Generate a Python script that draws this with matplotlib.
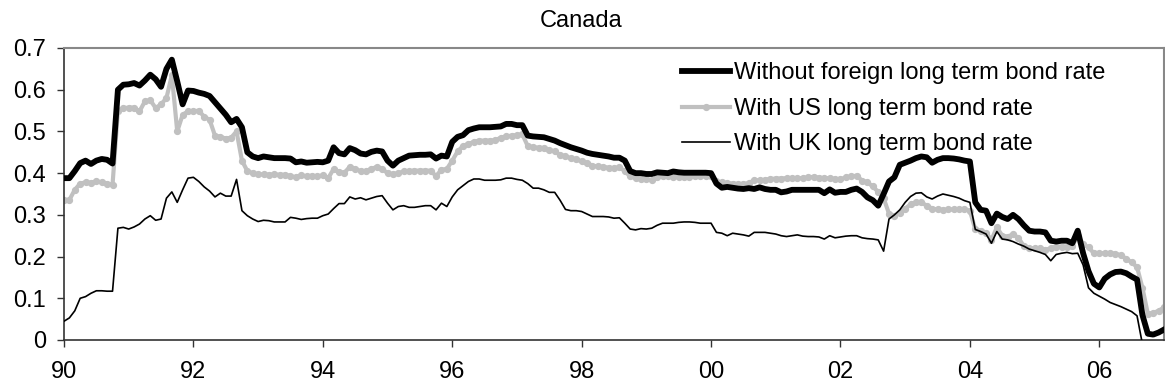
import numpy as np
import matplotlib
matplotlib.use("Agg")
import matplotlib.pyplot as plt

plt.rcParams['font.family'] = ['Liberation Sans', 'DejaVu Sans']

# monthly observations, Jan 1990 .. Jan 2007
start_year = 1990

without_foreign = [
    0.388, 0.388, 0.405, 0.424, 0.430, 0.422, 0.430, 0.434, 0.432, 0.423, 0.600, 0.612,
    0.613, 0.616, 0.610, 0.622, 0.636, 0.625, 0.607, 0.650, 0.672, 0.620, 0.565, 0.598,
    0.597, 0.593, 0.590, 0.585, 0.570, 0.555, 0.540, 0.522, 0.530, 0.510, 0.450, 0.440,
    0.436, 0.440, 0.438, 0.436, 0.436, 0.436, 0.435, 0.426, 0.428, 0.425, 0.426, 0.427,
    0.426, 0.430, 0.462, 0.448, 0.445, 0.460, 0.455, 0.447, 0.445, 0.451, 0.454, 0.452,
    0.430, 0.418, 0.430, 0.436, 0.442, 0.443, 0.444, 0.444, 0.445, 0.435, 0.442, 0.440,
    0.475, 0.487, 0.491, 0.503, 0.507, 0.510, 0.510, 0.510, 0.511, 0.512, 0.518, 0.518,
    0.515, 0.515, 0.490, 0.488, 0.487, 0.486, 0.482, 0.478, 0.472, 0.467, 0.462, 0.458,
    0.454, 0.449, 0.446, 0.444, 0.442, 0.440, 0.437, 0.437, 0.430, 0.405, 0.400, 0.400,
    0.398, 0.398, 0.402, 0.401, 0.400, 0.404, 0.402, 0.401, 0.401, 0.401, 0.401, 0.401,
    0.400, 0.375, 0.365, 0.367, 0.365, 0.363, 0.362, 0.364, 0.362, 0.366, 0.362, 0.360,
    0.360, 0.354, 0.356, 0.360, 0.360, 0.360, 0.360, 0.360, 0.360, 0.352, 0.361, 0.353,
    0.355, 0.355, 0.360, 0.363, 0.355, 0.342, 0.335, 0.322, 0.350, 0.380, 0.390, 0.420,
    0.425, 0.430, 0.436, 0.440, 0.438, 0.425, 0.432, 0.436, 0.436, 0.435, 0.433, 0.430,
    0.428, 0.330, 0.312, 0.310, 0.280, 0.303, 0.295, 0.290, 0.300, 0.290, 0.275, 0.262,
    0.260, 0.260, 0.258, 0.238, 0.236, 0.238, 0.238, 0.232, 0.262, 0.208, 0.165, 0.135,
    0.126, 0.147, 0.157, 0.163, 0.164, 0.160, 0.152, 0.145, 0.060, 0.015, 0.013, 0.018,
    0.025,
]

with_us = [
    0.335, 0.336, 0.360, 0.375, 0.378, 0.377, 0.380, 0.378, 0.375, 0.372, 0.550, 0.556,
    0.557, 0.557, 0.548, 0.572, 0.575, 0.556, 0.565, 0.580, 0.635, 0.500, 0.540, 0.548,
    0.548, 0.550, 0.535, 0.528, 0.490, 0.487, 0.483, 0.485, 0.500, 0.430, 0.405, 0.400,
    0.397, 0.397, 0.396, 0.397, 0.396, 0.396, 0.393, 0.390, 0.395, 0.392, 0.394, 0.392,
    0.395, 0.388, 0.410, 0.403, 0.401, 0.415, 0.410, 0.405, 0.405, 0.410, 0.415, 0.410,
    0.400, 0.397, 0.400, 0.404, 0.405, 0.406, 0.406, 0.406, 0.406, 0.393, 0.408, 0.410,
    0.430, 0.452, 0.465, 0.470, 0.475, 0.478, 0.478, 0.478, 0.479, 0.485, 0.488, 0.490,
    0.491, 0.493, 0.465, 0.462, 0.461, 0.460, 0.456, 0.452, 0.444, 0.440, 0.436, 0.433,
    0.428, 0.424, 0.418, 0.416, 0.415, 0.413, 0.412, 0.414, 0.405, 0.392, 0.388, 0.387,
    0.385, 0.383, 0.390, 0.392, 0.392, 0.391, 0.390, 0.390, 0.391, 0.392, 0.392, 0.393,
    0.393, 0.380, 0.378, 0.376, 0.375, 0.374, 0.374, 0.376, 0.383, 0.383, 0.384, 0.386,
    0.387, 0.387, 0.388, 0.388, 0.388, 0.388, 0.390, 0.391, 0.389, 0.388, 0.388, 0.386,
    0.385, 0.390, 0.392, 0.394, 0.382, 0.378, 0.368, 0.355, 0.340, 0.303, 0.297, 0.305,
    0.315, 0.325, 0.330, 0.330, 0.322, 0.315, 0.313, 0.312, 0.313, 0.313, 0.313, 0.313,
    0.310, 0.265, 0.262, 0.257, 0.240, 0.270, 0.250, 0.248, 0.253, 0.245, 0.225, 0.220,
    0.220, 0.220, 0.216, 0.220, 0.224, 0.224, 0.224, 0.226, 0.250, 0.230, 0.222, 0.208,
    0.208, 0.208, 0.208, 0.207, 0.203, 0.195, 0.186, 0.175, 0.125, 0.063, 0.065, 0.070,
    0.078,
]

with_uk = [
    0.045, 0.053, 0.070, 0.100, 0.104, 0.112, 0.118, 0.118, 0.117, 0.117, 0.268, 0.270,
    0.266, 0.271, 0.278, 0.290, 0.298, 0.287, 0.290, 0.340, 0.355, 0.330, 0.360, 0.388,
    0.390, 0.380, 0.367, 0.357, 0.343, 0.352, 0.345, 0.345, 0.385, 0.310, 0.298, 0.290,
    0.284, 0.287, 0.286, 0.283, 0.283, 0.283, 0.294, 0.292, 0.289, 0.291, 0.292, 0.292,
    0.298, 0.302, 0.315, 0.327, 0.327, 0.343, 0.338, 0.341, 0.336, 0.340, 0.344, 0.346,
    0.328, 0.312, 0.320, 0.322, 0.318, 0.318, 0.320, 0.322, 0.322, 0.312, 0.328, 0.320,
    0.343, 0.360, 0.370, 0.380, 0.386, 0.386, 0.383, 0.383, 0.383, 0.384, 0.388, 0.388,
    0.385, 0.383, 0.375, 0.364, 0.364, 0.360, 0.354, 0.354, 0.335, 0.313, 0.310, 0.310,
    0.308, 0.302, 0.296, 0.296, 0.296, 0.295, 0.292, 0.293, 0.280, 0.266, 0.264, 0.267,
    0.266, 0.268, 0.275, 0.280, 0.280, 0.280, 0.282, 0.283, 0.283, 0.282, 0.280, 0.280,
    0.280, 0.258, 0.256, 0.250, 0.256, 0.254, 0.252, 0.249, 0.258, 0.258, 0.258, 0.256,
    0.254, 0.250, 0.248, 0.250, 0.252, 0.249, 0.248, 0.248, 0.247, 0.242, 0.250, 0.245,
    0.247, 0.249, 0.250, 0.250, 0.245, 0.243, 0.242, 0.240, 0.213, 0.290, 0.300, 0.312,
    0.330, 0.344, 0.352, 0.353, 0.343, 0.338, 0.345, 0.350, 0.347, 0.344, 0.340, 0.334,
    0.330, 0.265, 0.260, 0.254, 0.232, 0.260, 0.242, 0.240, 0.236, 0.230, 0.225, 0.218,
    0.214, 0.210, 0.205, 0.190, 0.205, 0.208, 0.210, 0.207, 0.208, 0.180, 0.125, 0.112,
    0.105, 0.098, 0.090, 0.085, 0.080, 0.074, 0.068, 0.058, -0.010, np.nan, np.nan, np.nan,
    np.nan,
]

labels = ["Without foreign long term bond rate",
          "With US long term bond rate",
          "With UK long term bond rate"]
tick_years = [1990, 1992, 1994, 1996, 1998, 2000, 2002, 2004, 2006]
tick_labels = ["90", "92", "94", "96", "98", "00", "02", "04", "06"]

x = start_year + np.arange(len(without_foreign)) / 12.0

fs = 17

fig = plt.figure(figsize=(11.65, 3.92), dpi=100)
ax = fig.add_axes([64 / 1165, 1 - 340 / 392, 1100 / 1165, 292 / 392])

ax.plot(x, without_foreign, color='black', lw=4.2, solid_joinstyle='round',
        label=labels[0], zorder=3)
ax.plot(x, with_us, color='#c0c0c0', lw=3, marker='o', ms=4.2, mec='#c0c0c0',
        solid_joinstyle='round', label=labels[1], zorder=2)
ax.plot(x, with_uk, color='black', lw=1.2, label=labels[2], zorder=4)

ax.set_xlim(1990, 2007)
ax.set_ylim(0, 0.7)
ax.set_xticks(tick_years)
ax.set_xticklabels(tick_labels)
ax.set_yticks(np.arange(0, 0.71, 0.1))
ax.set_yticklabels(["0", "0.1", "0.2", "0.3", "0.4", "0.5", "0.6", "0.7"])
ax.tick_params(labelsize=fs, length=5, width=1, color='#333333')
ax.tick_params(axis='y', pad=8)
ax.tick_params(axis='x', pad=10)

for side in ['left', 'bottom']:
    ax.spines[side].set_color('#333333')
    ax.spines[side].set_linewidth(1.2)
for side in ['top', 'right']:
    ax.spines[side].set_color('#888888')
    ax.spines[side].set_linewidth(1.5)

fig.text(0.4985, 1 - 21 / 392, "Canada", ha='center', va='center', fontsize=fs)

ax.legend(loc='upper left', bbox_to_anchor=(0.555, 0.975), frameon=False,
          fontsize=fs, handlelength=2.05, handletextpad=0.15, labelspacing=0.57,
          borderpad=0.3, borderaxespad=0, numpoints=1)

fig.savefig("out.png", dpi=100)
